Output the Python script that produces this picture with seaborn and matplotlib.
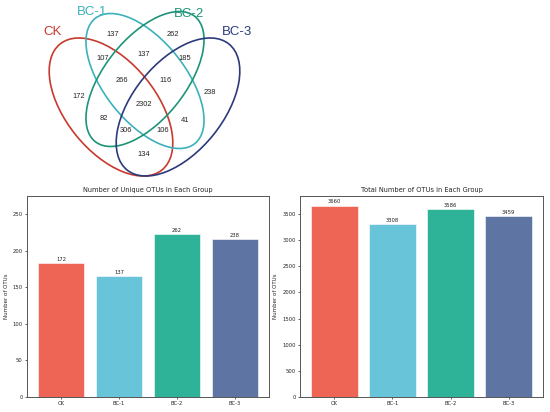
import matplotlib
matplotlib.use("Agg")
import matplotlib.pyplot as plt
from matplotlib.patches import Ellipse
import seaborn as sns

# groups and colours
groups = ["CK", "BC-1", "BC-2", "BC-3"]
venn_colors = ["#c8392e", "#3cb1bb", "#1d9479", "#2c3a7c"]
bar_colors = ["#ee6555", "#68c4d8", "#2eb398", "#5e74a3"]

# venn region counts (membership in CK, BC-1, BC-2, BC-3)
venn_counts = {
    "1000": 172, "0100": 137, "0010": 262, "0001": 238,
    "1100": 107, "0110": 137, "0011": 185, "1010": 82,
    "0101": 41, "1001": 134, "1110": 266, "0111": 116,
    "1011": 306, "1101": 106, "1111": 2302,
}

# bar charts
unique_heights = [183, 165, 223, 216]
unique_labels = [172, 137, 262, 238]
total_heights = [3660, 3308, 3586, 3459]
total_labels = [3660, 3308, 3586, 3459]

sns.set_style("white")
plt.rcParams["font.family"] = ["DejaVu Sans"]

fig = plt.figure(figsize=(5.5, 4.12), dpi=100)
fig.patch.set_facecolor("white")

# ---- venn diagram, drawn in pixel-like coordinates ----
axv = fig.add_axes([0, 1 - 190 / 412, 1, 190 / 412])
axv.set_xlim(0, 550)
axv.set_ylim(190, 0)
axv.axis("off")

shapes = [  # cx, cy, width, height, angle
    (111, 107, 162, 90, 51),
    (145, 81, 160, 81, 51.5),
    (145, 79, 160, 81, -51.5),
    (178, 107, 162, 90, -51),
]
for (cx, cy, w, h, ang), col in zip(shapes, venn_colors):
    axv.add_patch(Ellipse((cx, cy), w, h, angle=ang, fill=False,
                          edgecolor=col, lw=1.2))

region_pos = {
    "1000": (79, 96), "0100": (113, 34), "0010": (173, 35), "0001": (210, 93),
    "1100": (103, 58), "0110": (144, 55), "0011": (185, 58), "1010": (104, 119),
    "0101": (185, 120), "1001": (144, 155), "1110": (122, 81), "0111": (166, 81),
    "1011": (126, 130), "1101": (163, 131), "1111": (144, 105),
}
for key, val in venn_counts.items():
    x, y = region_pos[key]
    axv.text(x, y, str(val), ha="center", va="center", fontsize=5.4,
             family=["Liberation Sans", "DejaVu Sans"], color="#222222")

name_pos = [(53, 32), (92, 12), (189, 14), (237, 32)]
for name, (x, y), col in zip(groups, name_pos, venn_colors):
    axv.text(x, y, name, ha="center", va="center", fontsize=9.5,
             family=["Liberation Sans", "DejaVu Sans"], color=col)


def bar_panel(rect, heights, labels, title):
    ax = fig.add_axes(rect)
    sns.barplot(x=groups, y=heights, hue=groups, palette=bar_colors,
                legend=False, ax=ax, saturation=1, width=0.8,
                edgecolor="white", linewidth=0.4)
    for i, (h, lab) in enumerate(zip(heights, labels)):
        ax.annotate(str(lab), (i, h), xytext=(0, 1), textcoords="offset points",
                    ha="center", va="bottom", fontsize=3.8, color="#222222")
    ax.set_xlim(-0.59, 3.59)
    ax.set_ylim(0, max(labels) * 1.05)
    ax.set_title(title, fontsize=4.8, pad=3)
    ax.set_ylabel("Number of OTUs", fontsize=4, labelpad=3)
    ax.set_xlabel("")
    ax.tick_params(labelsize=3.8, length=1.5, width=0.5, pad=1.5,
                   bottom=True, left=True)
    for s in ax.spines.values():
        s.set_color("#555555")
        s.set_linewidth(0.7)
    return ax


bar_panel([27 / 550, 15 / 412, 242 / 550, 201 / 412], unique_heights,
          unique_labels, "Number of Unique OTUs in Each Group")
bar_panel([300 / 550, 15 / 412, 243 / 550, 201 / 412], total_heights,
          total_labels, "Total Number of OTUs in Each Group")

fig.savefig("out.png", dpi=100, facecolor="white")
